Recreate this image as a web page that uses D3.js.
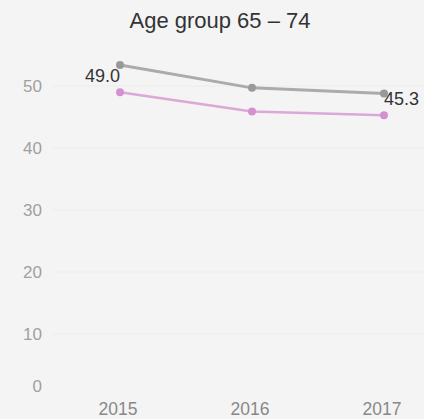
<!DOCTYPE html>
<html>
<head>
<meta charset="utf-8">
<script src="https://cdn.jsdelivr.net/npm/d3@7"></script>
<style>
  body { margin: 0; background: #f4f4f4; }
  svg { display: block; font-family: "Liberation Sans", Arial, sans-serif; }
</style>
</head>
<body>
<div id="chart"></div>
<script>
const years = ["2015", "2016", "2017"];
const totalValues = [53.4, 49.7, 48.8];
const groupValues = [49.0, 45.9, 45.3];
const yTicks = [0, 10, 20, 30, 40, 50];
const labelledPoints = [0, 2]; // indexes of groupValues that get a value label

const width = 424, height = 419;

const svg = d3.select("#chart").append("svg")
    .attr("width", width)
    .attr("height", height);

svg.append("rect").attr("width", width).attr("height", height).attr("fill", "#f4f4f4");

const x = d3.scalePoint().domain(years).range([120, 384]);
const y = d3.scaleLinear().domain([0, 50]).range([396, 86]);

// title
svg.append("text")
    .attr("x", 220)
    .attr("y", 28)
    .attr("text-anchor", "middle")
    .attr("fill", "#333")
    .style("font-size", "22px")
    .text("Age group 65 \u2013 74");

// grid + y labels
const grid = svg.append("g");
grid.selectAll("line").data(yTicks.filter((d) => d > 0)).join("line")
    .attr("x1", 52)
    .attr("x2", width)
    .attr("y1", (d) => y(d))
    .attr("y2", (d) => y(d))
    .attr("stroke", "#ececec");

grid.selectAll("text").data(yTicks).join("text")
    .attr("x", 42)
    .attr("y", (d) => Math.min(y(d), 386))
    .attr("dy", "0.35em")
    .attr("text-anchor", "end")
    .attr("fill", "#a0a0a0")
    .style("font-size", "17px")
    .text((d) => d);

// x labels
svg.append("g").selectAll("text").data(years).join("text")
    .attr("x", (d) => x(d) - 2)
    .attr("y", 415)
    .attr("text-anchor", "middle")
    .attr("fill", "#888")
    .style("font-size", "17.5px")
    .text((d) => d);

const line = d3.line()
    .x((d, i) => x(years[i]))
    .y((d) => y(d));

const series = [
    { values: totalValues, stroke: "#ababab", width: 3, point: "#999" },
    { values: groupValues, stroke: "#dca8d7", width: 2.5, point: "#d590d0" },
];

series.forEach((s) => {
    svg.append("path")
        .attr("d", line(s.values))
        .attr("fill", "none")
        .attr("stroke", s.stroke)
        .attr("stroke-width", s.width);
    svg.append("g").selectAll("circle").data(s.values).join("circle")
        .attr("cx", (d, i) => x(years[i]))
        .attr("cy", (d) => y(d))
        .attr("r", 4)
        .attr("fill", s.point);
});

// value labels
svg.append("g").selectAll("text").data(labelledPoints).join("text")
    .attr("x", (i) => x(years[i]))
    .attr("y", (i) => y(groupValues[i]) - 10)
    .attr("text-anchor", (i) => i === 0 ? "end" : "start")
    .attr("fill", "#333")
    .style("font-size", "18px")
    .text((i) => groupValues[i].toFixed(1));
</script>
</body>
</html>
